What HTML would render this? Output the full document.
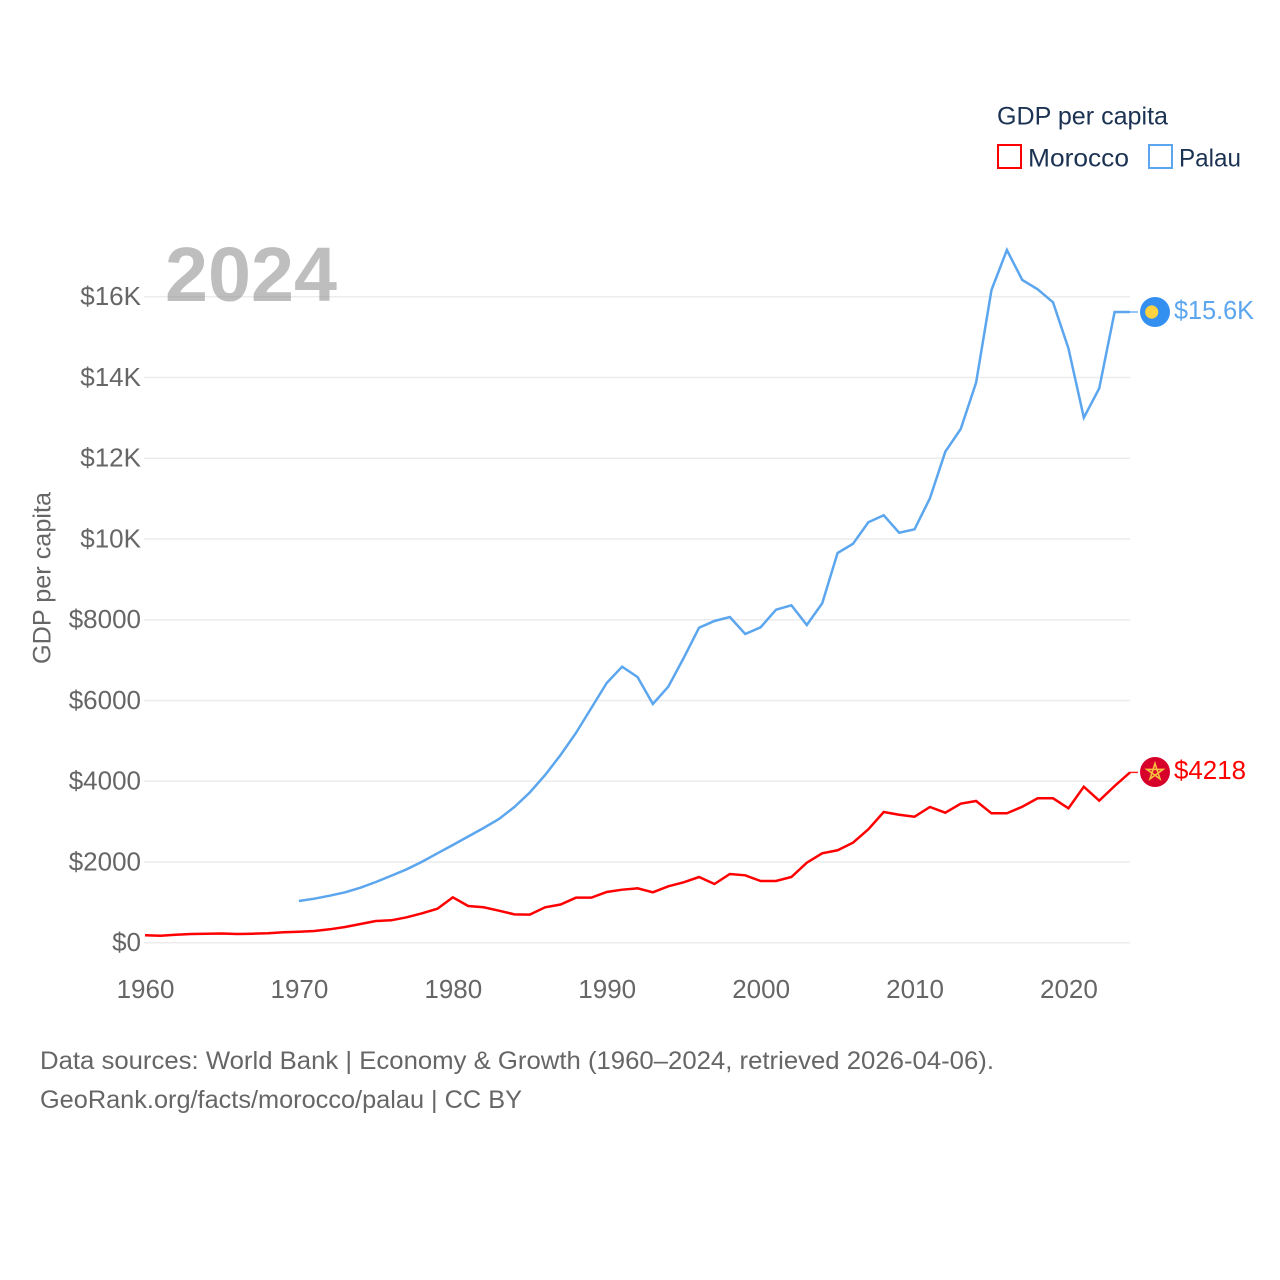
<!DOCTYPE html>
<html lang="en">
<head>
<meta charset="utf-8">
<title>GDP per capita: Morocco and Palau</title>
<style>
  html, body { margin: 0; padding: 0; background: #fff; }
  svg { display: block; font-family: "Liberation Sans", sans-serif; }
</style>
</head>
<body>
<svg id="chart" xmlns="http://www.w3.org/2000/svg" width="1280" height="1280" viewBox="0 0 1280 1280">
  <rect x="0" y="0" width="1280" height="1280" fill="#ffffff"/>
  <g id="grid"></g>
  <g id="y-ticks"></g>
  <g id="x-ticks"></g>
  <text transform="translate(50.5 578) rotate(-90)" text-anchor="middle" font-size="25" fill="#666666" textLength="172" lengthAdjust="spacingAndGlyphs">GDP per capita</text>
  <text x="165" y="301" font-size="77" font-weight="700" fill="#8f8f8f" fill-opacity="0.58" textLength="172" lengthAdjust="spacingAndGlyphs">2024</text>
  <g id="series"></g>
  <g>
    <text x="997" y="124.5" font-size="25" fill="#1b3252" textLength="171" lengthAdjust="spacingAndGlyphs">GDP per capita</text>
    <rect x="998" y="145" width="23" height="23" fill="none" stroke="#ff0000" stroke-width="2"/>
    <text x="1028" y="166.5" font-size="25" fill="#1b3252" textLength="101" lengthAdjust="spacingAndGlyphs">Morocco</text>
    <rect x="1149" y="145" width="23" height="23" fill="none" stroke="#5ba6ee" stroke-width="2"/>
    <text x="1179" y="166.5" font-size="25" fill="#1b3252" textLength="62" lengthAdjust="spacingAndGlyphs">Palau</text>
  </g>
  <g>
    <circle cx="1155" cy="312" r="15" fill="#3490f0"/>
    <circle cx="1151.7" cy="312" r="6.6" fill="#ffd23f"/>
  </g>
  <g>
    <circle cx="1155" cy="772" r="15" fill="#d6002a"/>
    <polygon points="1155,763.5 1160,778.9 1146.9,769.4 1163.1,769.4 1150,778.9" fill="none" stroke="#f6bf3f" stroke-width="1.6"/>
  </g>
  <g id="end-labels"></g>
  <g>
    <text x="40" y="1069" font-size="25" fill="#666666" textLength="954" lengthAdjust="spacingAndGlyphs">Data sources: World Bank | Economy &amp; Growth (1960–2024, retrieved 2026-04-06).</text>
    <text x="40" y="1108" font-size="25" fill="#666666" textLength="482" lengthAdjust="spacingAndGlyphs">GeoRank.org/facts/morocco/palau | CC BY</text>
  </g>
</svg>
<script>
const moroccoYears = [1960,1961,1962,1963,1964,1965,1966,1967,1968,1969,1970,1971,1972,1973,1974,1975,1976,1977,1978,1979,1980,1981,1982,1983,1984,1985,1986,1987,1988,1989,1990,1991,1992,1993,1994,1995,1996,1997,1998,1999,2000,2001,2002,2003,2004,2005,2006,2007,2008,2009,2010,2011,2012,2013,2014,2015,2016,2017,2018,2019,2020,2021,2022,2023,2024];
const moroccoValues = [183,173,198,215,223,228,215,223,233,258,272,290,332,389,463,537,555,629,728,842,1124,909,877,793,703,694,877,946,1115,1115,1256,1313,1347,1248,1397,1496,1627,1454,1702,1669,1528,1528,1627,1981,2214,2289,2477,2809,3237,3170,3121,3361,3220,3443,3510,3205,3205,3368,3577,3577,3329,3864,3517,3881,4218];
const palauYears = [1970,1971,1972,1973,1974,1975,1976,1977,1978,1979,1980,1981,1982,1983,1984,1985,1986,1987,1988,1989,1990,1991,1992,1993,1994,1995,1996,1997,1998,1999,2000,2001,2002,2003,2004,2005,2006,2007,2008,2009,2010,2011,2012,2013,2014,2015,2016,2017,2018,2019,2020,2021,2022,2023,2024];
const palauValues = [1033,1090,1164,1248,1362,1503,1659,1818,2006,2214,2420,2630,2841,3064,3361,3720,4154,4649,5194,5813,6432,6836,6581,5912,6341,7051,7802,7968,8067,7646,7812,8248,8357,7869,8406,9652,9880,10413,10586,10155,10239,11007,12161,12723,13870,16166,17157,16414,16183,15861,14722,13003,13731,15621,15621];
const yTickValues = [0,2000,4000,6000,8000,10000,12000,14000,16000];
const yTickLabels = ["$0","$2000","$4000","$6000","$8000","$10K","$12K","$14K","$16K"];
const xTickValues = [1960,1970,1980,1990,2000,2010,2020];
const xTickLabels = ["1960","1970","1980","1990","2000","2010","2020"];
const moroccoEndLabel = "$4218";
const palauEndLabel = "$15.6K";

const SVG_NS = "http://www.w3.org/2000/svg";
const xScale = function (year) { return 145 + (year - 1960) * (1130 - 145) / 64; };
const yScale = function (value) { return 942.7 - value * (942.7 - 296.7) / 16000; };

function make(tag, parent, attrs, text) {
  const el = document.createElementNS(SVG_NS, tag);
  Object.keys(attrs).forEach(function (k) { el.setAttribute(k, attrs[k]); });
  if (text !== undefined) { el.textContent = text; }
  parent.appendChild(el);
  return el;
}

const gridGroup = document.getElementById("grid");
const yGroup = document.getElementById("y-ticks");
yTickValues.forEach(function (v, i) {
  const line = make("line", gridGroup, { x1: 144, x2: 1130, y1: yScale(v), y2: yScale(v), stroke: "#ececec", "stroke-width": 1.5 });
  
  
  const label = make("text", yGroup, { x: 141, y: yScale(v) + 8.5, "text-anchor": "end", "font-size": 26, fill: "#666666" }, yTickLabels[i]);
  
  
});

const xGroup = document.getElementById("x-ticks");
xTickValues.forEach(function (v, i) {
  const label = make("text", xGroup, { x: xScale(v) + 0.5, y: 998, "text-anchor": "middle", "font-size": 26, fill: "#666666" }, xTickLabels[i]);
  
  
});

function toPoints(years, values) {
  return years.map(function (y, i) { return xScale(y).toFixed(2) + "," + yScale(values[i]).toFixed(2); }).join(" ");
}

const seriesGroup = document.getElementById("series");
const palauLine = make("polyline", seriesGroup, { points: toPoints(palauYears, palauValues), fill: "none", stroke: "#5ba6ee", "stroke-width": 2.5, "stroke-linejoin": "miter" });


const moroccoLine = make("polyline", seriesGroup, { points: toPoints(moroccoYears, moroccoValues), fill: "none", stroke: "#ff0000", "stroke-width": 2.5, "stroke-linejoin": "miter" });



const palauEndY = yScale(palauValues[palauValues.length - 1]);
const moroccoEndY = yScale(moroccoValues[moroccoValues.length - 1]);
const palauLeader = make("line", seriesGroup, { x1: 1130, x2: 1138, y1: palauEndY, y2: palauEndY, stroke: "#5ba6ee", "stroke-width": 1.5, "stroke-opacity": 0.85 });


const moroccoLeader = make("line", seriesGroup, { x1: 1130, x2: 1138, y1: moroccoEndY, y2: moroccoEndY, stroke: "#ff0000", "stroke-width": 1.5, "stroke-opacity": 0.85 });



const labelGroup = document.getElementById("end-labels");
const palauLabel = make("text", labelGroup, { x: 1174, y: 319, "font-size": 26, fill: "#5ba6ee", textLength: 80, lengthAdjust: "spacingAndGlyphs" }, palauEndLabel);


const moroccoLabel = make("text", labelGroup, { x: 1174, y: 779, "font-size": 26, fill: "#ff0000", textLength: 72, lengthAdjust: "spacingAndGlyphs" }, moroccoEndLabel);


</script>
</body>
</html>
